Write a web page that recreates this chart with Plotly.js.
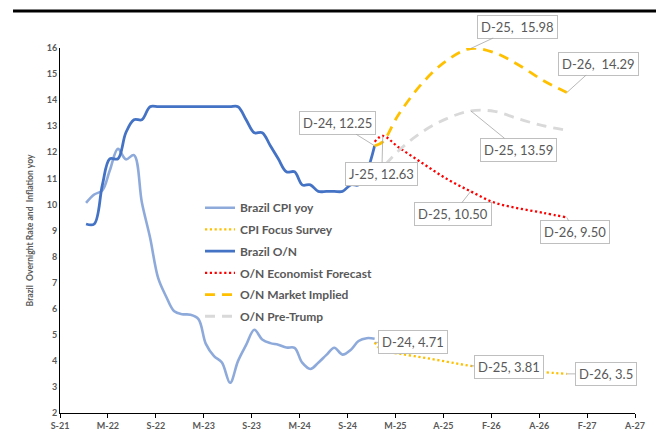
<!DOCTYPE html>
<html>
<head>
<meta charset="utf-8">
<script src="https://cdn.plot.ly/plotly-3.0.1.min.js"></script>
<style>html,body{margin:0;padding:0;background:#fff;}#chart{width:656px;height:432px;}</style>
</head>
<body>
<div id="chart"></div>
<script>
// ---------- data ----------
const cpiDates = ['2021-12','2022-01','2022-02','2022-03','2022-04','2022-05','2022-06','2022-07','2022-08','2022-09','2022-10','2022-11','2022-12',
  '2023-01','2023-02','2023-03','2023-04','2023-05','2023-06','2023-07','2023-08','2023-09','2023-10','2023-11','2023-12',
  '2024-01','2024-02','2024-03','2024-04','2024-05','2024-06','2024-07','2024-08','2024-09','2024-10','2024-11','2024-12'];
const cpiValues = [10.06,10.38,10.54,11.30,12.13,11.73,11.89,10.07,8.73,7.17,6.47,5.90,5.79,
  5.77,5.60,4.65,4.18,3.94,3.16,3.99,4.61,5.19,4.82,4.68,4.62,
  4.51,4.50,3.93,3.69,3.93,4.23,4.50,4.24,4.42,4.76,4.87,4.85];

const onDates = cpiDates;
const onValues = [9.25,9.25,10.75,11.75,11.75,12.75,13.25,13.25,13.75,13.75,13.75,13.75,13.75,
  13.75,13.75,13.75,13.75,13.75,13.75,13.75,13.25,12.75,12.75,12.25,11.75,
  11.25,11.25,10.75,10.75,10.50,10.50,10.50,10.50,10.75,10.75,11.25,12.25];

const focusDates = ['2024-12','2025-01','2025-03','2025-06','2025-09','2025-12','2026-06','2026-12'];
const focusValues = [4.71,4.38,4.28,4.13,3.97,3.81,3.64,3.50];

const econDates = ['2024-12','2025-01','2025-03','2025-06','2025-09','2025-12','2026-03','2026-06','2026-09','2026-12'];
const econValues = [12.40,12.63,12.20,11.58,10.98,10.50,10.07,9.85,9.68,9.50];

const mktDates = ['2024-12','2025-01','2025-03','2025-06','2025-09','2025-12','2026-03','2026-06','2026-09','2026-12'];
const mktValues = [12.25,12.40,13.43,14.66,15.52,15.98,15.82,15.35,14.76,14.29];

const preDates = ['2024-12','2025-03','2025-06','2025-09','2025-12','2026-03','2026-06','2026-09','2026-12'];
const preValues = [11.05,12.05,12.79,13.29,13.59,13.57,13.28,13.02,12.85];

const seriesNames = ['Brazil CPI yoy','CPI Focus Survey','Brazil O/N','O/N Economist Forecast','O/N Market Implied','O/N Pre-Trump'];
const xTickText = ['S-21','M-22','S-22','M-23','S-23','M-24','S-24','M-25','A-25','F-26','A-26','F-27','A-27'];
const yTitle = 'Brazil\u00a0 Overnight Rate and\u00a0 Inflation yoy';

// data labels: [dates, values, date, text, ax, ay]
const labelDefs = [
  [mktDates, mktValues, '2025-12', 'D-25,\u00a0 15.98', 47, -22],
  [mktDates, mktValues, '2026-12', 'D-26,\u00a0 14.29', 32, -29],
  [onDates, onValues, '2024-12', 'D-24, 12.25', -37, -23],
  [econDates, econValues, '2025-01', 'J-25, 12.63', -1, 38],
  [preDates, preValues, '2025-12', 'D-25, 13.59', 48, 39],
  [econDates, econValues, '2025-12', 'D-25, 10.50', -18, 23],
  [econDates, econValues, '2026-12', 'D-26, 9.50', 8, 15],
  [focusDates, focusValues, '2024-12', 'D-24, 4.71', 38, 0],
  [focusDates, focusValues, '2025-12', 'D-25, 3.81', 38, 1],
  [focusDates, focusValues, '2026-12', 'D-26, 3.5', 39, 0]
];

// ---------- axis helpers ----------
const DAY = 864e5;
const axisStart = Date.UTC(2021, 7, 24);
const tickVals = xTickText.map((t, k) => new Date(axisStart + k * 182 * DAY).toISOString().slice(0, 10));
const axisEnd = new Date(axisStart + 2184 * DAY).toISOString().slice(0, 10);

const gray = '#595959';
const FONT = 'Lato, "Open Sans", sans-serif';

function tr(name, x, y, color, width, dash, i) {
  return {
    type: 'scatter', mode: 'lines', name: name, x: x, y: y,
    line: {color: color, width: width, dash: dash, shape: 'spline', smoothing: 1},
    legendgroup: 'g' + i, hoverinfo: 'skip'
  };
}

const traces = [
  tr(seriesNames[0], cpiDates, cpiValues, '#8eaadb', 2.6, 'solid', 0),
  tr(seriesNames[1], focusDates, focusValues, '#ffc000', 2.3, '2.2px,2.6px', 1),
  tr(seriesNames[2], onDates, onValues, '#4472c4', 2.8, 'solid', 2),
  tr(seriesNames[3], econDates, econValues, '#ff0000', 2.3, '2.2px,2.6px', 3),
  tr(seriesNames[4], mktDates, mktValues, '#ffc000', 2.8, '10px,7px', 4),
  tr(seriesNames[5], preDates, preValues, '#d9d9d9', 2.8, '10px,7px', 5)
];

const annotations = labelDefs.map(d => ({
  x: d[2], y: d[1][d[0].indexOf(d[2])], xref: 'x', yref: 'y',
  text: d[3], showarrow: true, arrowhead: 0, arrowwidth: 0.8, arrowcolor: '#a6a6a6',
  ax: d[4], ay: d[5], standoff: 0,
  bgcolor: '#ffffff', bordercolor: '#bfbfbf', borderwidth: 1, borderpad: 3,
  font: {family: FONT, size: 13, color: gray}
}));

const layout = {
  width: 656, height: 432,
  margin: {l: 60, r: 21, t: 48, b: 19},
  paper_bgcolor: '#ffffff', plot_bgcolor: '#ffffff',
  showlegend: true,
  legend: {
    x: 0.2435, y: 0.602, xanchor: 'left', yanchor: 'top',
    bgcolor: 'rgba(0,0,0,0)', borderwidth: 0, tracegroupgap: 2.7,
    font: {family: FONT, size: 12, color: gray, weight: 700}
  },
  xaxis: {
    type: 'date', range: [tickVals[0], axisEnd],
    tickmode: 'array', tickvals: tickVals, ticktext: xTickText,
    ticks: 'outside', ticklen: 4, tickcolor: '#000', tickwidth: 1,
    showline: true, linecolor: '#000', linewidth: 1,
    showgrid: false, zeroline: false,
    tickfont: {family: FONT, size: 9, color: gray, weight: 700}
  },
  yaxis: {
    range: [2, 16], tick0: 2, dtick: 1,
    showline: true, linecolor: '#000', linewidth: 1, ticks: '',
    showgrid: false, zeroline: false,
    tickfont: {family: FONT, size: 9, color: gray, weight: 700},
    title: {text: yTitle, standoff: 11, font: {family: FONT, size: 8.6, color: gray, weight: 700}}
  },
  shapes: [{
    type: 'line', xref: 'paper', yref: 'paper', x0: -0.0817, x1: 1.04, y0: 1.1014, y1: 1.1014,
    line: {color: '#000', width: 3}
  }],
  annotations: annotations
};

Plotly.newPlot('chart', traces, layout, {displayModeBar: false, staticPlot: true});
</script>
</body>
</html>
